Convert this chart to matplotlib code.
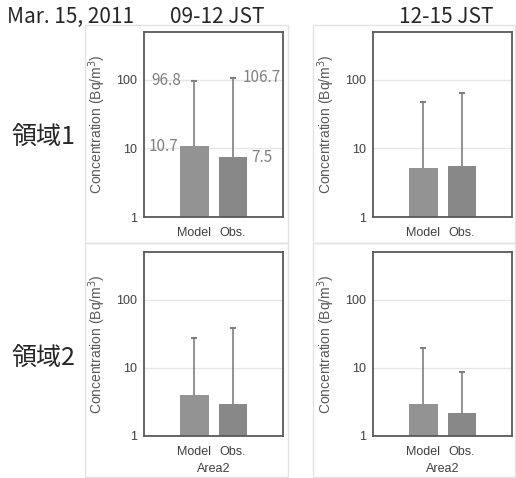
import numpy as np
import matplotlib.pyplot as plt
from matplotlib.patches import Rectangle

plt.rcParams['font.family'] = ['Noto Sans CJK JP', 'DejaVu Sans']

categories = ["Model", "Obs."]
# bar value and upper end of error bar, per panel
area1_0912 = [10.7, 7.5]
area1_0912_upper = [96.8, 106.7]
area1_1215 = [5.1, 5.6]
area1_1215_upper = [47.5, 64.0]
area2_0912 = [4.0, 2.9]
area2_0912_upper = [27.0, 39.0]
area2_1215 = [2.9, 2.2]
area2_1215_upper = [19.3, 8.6]

W, H = 516, 478
fig = plt.figure(figsize=(W / 100, H / 100), dpi=100)


def px_rect(x0, y0, x1, y1):
    # pixel box (top-left origin) -> figure fraction [l, b, w, h]
    return [x0 / W, 1 - y1 / H, (x1 - x0) / W, (y1 - y0) / H]


def frame(x0, y0, x1, y1):
    l, b, w, h = px_rect(x0, y0, x1, y1)
    fig.patches.append(Rectangle((l, b), w, h, transform=fig.transFigure,
                                 fill=False, edgecolor='#e3e3e3', lw=1))


def panel(box, vals, upper, xlabel=None, labels=False):
    ax = fig.add_axes(px_rect(*box))
    x = np.arange(len(categories))
    ax.bar(x, vals, width=0.75, color=['#939393', '#888888'], zorder=2)
    # upward-only error bars, cap at top only
    ax.vlines(x, vals, upper, color='#7f7f7f', lw=1.2, zorder=3)
    ax.plot(x, upper, ls='none', marker='_', ms=5, mew=1.5,
            color='#7f7f7f', zorder=3)
    ax.set_yscale('log')
    ax.set_ylim(1, 500)
    ax.set_xlim(-1.31, 2.3)
    ax.set_yticks([1, 10, 100])
    ax.set_yticklabels(['1', '10', '100'])
    ax.minorticks_off()
    ax.yaxis.grid(True, color='#e6e6e6', lw=1, zorder=0)
    ax.set_axisbelow(True)
    ax.set_xticks(x)
    ax.set_xticklabels(categories)
    ax.tick_params(length=0, labelsize=9, labelcolor='#404040', pad=5)
    ax.tick_params(axis='x', pad=7)
    for lab in ax.get_xticklabels() + ax.get_yticklabels():
        lab.set_family('Liberation Sans')
    for s in ax.spines.values():
        s.set_color('#595959')
        s.set_linewidth(1.3)
    ax.set_ylabel('Concentration (Bq/m$^3$)', fontsize=10, color='#595959',
                  family='Liberation Sans', labelpad=6)
    if xlabel:
        ax.set_xlabel(xlabel, fontsize=9, color='#404040', labelpad=4,
                      family='Liberation Sans')
    if labels:
        kw = dict(fontsize=11, color='#808080', va='center')
        ax.text(-1.13, upper[0], f"{upper[0]}", ha='left', **kw)
        ax.text(-1.2, vals[0], f"{vals[0]}", ha='left', **kw)
        ax.text(1.25, upper[1], f"{upper[1]}", ha='left', **kw)
        ax.text(1.47, vals[1], f"{vals[1]}", ha='left', **kw)
    return ax


frame(85, 25, 288, 243)
frame(313, 25, 515, 243)
frame(85, 243, 288, 477)
frame(313, 243, 515, 477)

panel((144, 32, 283, 217), area1_0912, area1_0912_upper, labels=True)
panel((373, 32, 512, 217), area1_1215, area1_1215_upper)
panel((144, 252, 283, 436), area2_0912, area2_0912_upper, xlabel='Area2')
panel((373, 252, 512, 436), area2_1215, area2_1215_upper, xlabel='Area2')

fig.text(7 / W, 1 - 17 / H, 'Mar. 15, 2011', fontsize=15,
         color='#262626', va='center', ha='left')
fig.text(170 / W, 1 - 17 / H, '09-12 JST', fontsize=15,
         color='#262626', va='center', ha='left')
fig.text(446 / W, 1 - 17 / H, '12-15 JST', fontsize=15,
         color='#262626', va='center', ha='center')
fig.text(11 / W, 1 - 137 / H, '領域1', fontsize=18, color='#262626',
         va='center', ha='left')
fig.text(11 / W, 1 - 358 / H, '領域2', fontsize=18, color='#262626',
         va='center', ha='left')

fig.savefig('out.png', dpi=100)
